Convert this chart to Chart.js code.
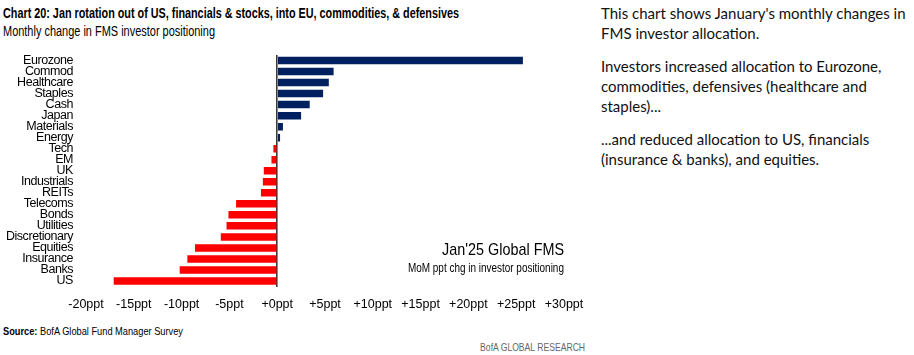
<!DOCTYPE html>
<html><head><meta charset="utf-8">
<script src="https://cdn.jsdelivr.net/npm/chart.js@4"></script>
<style>
html,body{margin:0;padding:0;background:#fff;width:914px;height:355px;overflow:hidden;position:relative;}
.t{position:absolute;white-space:nowrap;font-family:'Liberation Sans Narrow','Liberation Sans',sans-serif;color:#000;line-height:1;}
.fitL{transform-origin:0 0;}
.fitR{transform-origin:100% 0;}
#title{left:3px;top:5px;font-size:15px;font-weight:bold;}
#sub{left:3px;top:24px;font-size:14px;}
#ann1{right:350px;top:241px;font-size:17px;}
#ann2{right:350px;top:262px;font-size:12.5px;}
#src{left:3px;top:326px;font-size:11px;}
#brand{right:329px;top:342px;font-size:11px;color:#666;}
#wrap{position:absolute;left:0;top:0;width:590px;height:320px;}
#panel{position:absolute;left:601px;top:3px;width:310px;font-family:Lato,'Open Sans',sans-serif;font-size:15px;line-height:20px;color:#111;}
#panel p{margin:0 0 13px 0;white-space:nowrap;}
</style>
</head><body>
<div id="title" class="t fitL" data-w="456">Chart 20: Jan rotation out of US, financials &amp; stocks, into EU, commodities, &amp; defensives</div>
<div id="sub" class="t fitL" data-w="212">Monthly change in FMS investor positioning</div>
<div id="wrap"><canvas id="c"></canvas></div>
<div id="ann1" class="t fitR" data-w="122">Jan'25 Global FMS</div>
<div id="ann2" class="t fitR" data-w="156">MoM ppt chg in investor positioning</div>
<div id="src" class="t fitL" data-w="180"><b>Source:</b> BofA Global Fund Manager Survey</div>
<div id="brand" class="t fitR" data-w="105">BofA GLOBAL RESEARCH</div>
<div id="panel">
<p>This chart shows January's monthly changes in<br>FMS investor allocation.</p>
<p>Investors increased allocation to Eurozone,<br>commodities, defensives (healthcare and<br>staples)...</p>
<p>...and reduced allocation to US, financials<br>(insurance &amp; banks), and equities.</p>
</div>
<script>
const categories = ['Eurozone','Commod','Healthcare','Staples','Cash','Japan','Materials','Energy','Tech','EM','UK','Industrials','REITs','Telecoms','Bonds','Utilities','Discretionary','Equities','Insurance','Banks','US'];
const changes = [25.7, 5.9, 5.4, 4.8, 3.4, 2.5, 0.6, 0.3, -0.4, -0.6, -1.4, -1.5, -1.7, -4.3, -5.1, -5.3, -5.9, -8.6, -9.4, -10.2, -17.1];
const tickValues = [-20, -15, -10, -5, 0, 5, 10, 15, 20, 25, 30];

// fit text widths
document.querySelectorAll('[data-w]').forEach(el => {
  const w = el.getBoundingClientRect().width;
  const target = +el.dataset.w;
  if (w > 0) el.style.transform = 'scaleX(' + (target / w) + ')';
});

const NAVY = '#002060', RED = '#FF0000';
const LBL = "'Liberation Sans Narrow','Liberation Sans',sans-serif";

function condenseLabels(scale, spacing) {
  if (scale._condensed) return;
  scale._condensed = true;
  const orig = scale.drawLabels.bind(scale);
  scale.drawLabels = function (area) {
    const ctx = this.ctx;
    ctx.save();
    ctx.letterSpacing = spacing;
    orig(area);
    ctx.restore();
  };
}

new Chart(document.getElementById('c'), {
  type: 'bar',
  data: {
    labels: categories,
    datasets: [{
      data: changes,
      backgroundColor: changes.map(v => v >= 0 ? NAVY : RED),
      barPercentage: 0.68,
      categoryPercentage: 1.0
    }]
  },
  options: {
    indexAxis: 'y',
    responsive: true,
    maintainAspectRatio: false,
    animation: false,
    layout: { padding: { top: 55, right: 26, bottom: 8.5, left: 0 } },
    plugins: { legend: { display: false }, tooltip: { enabled: false } },
    scales: {
      x: {
        type: 'linear',
        min: tickValues[0],
        max: tickValues[tickValues.length - 1],
        afterBuildTicks: s => { s.ticks = tickValues.map(v => ({ value: v })); },
        afterFit: s => { s.height = 25; s.paddingLeft = 0; s.paddingRight = 0; },
        border: { display: false },
        grid: {
          drawTicks: false,
          color: ctx => (ctx.tick && ctx.tick.value === 0) ? '#3a3a3a' : 'rgba(0,0,0,0)',
          lineWidth: ctx => (ctx.tick && ctx.tick.value === 0) ? 1.6 : 0
        },
        ticks: {
          padding: 11,
          color: '#000',
          font: { family: LBL, size: 12.5 },
          maxRotation: 0,
          autoSkip: false,
          callback: v => (v >= 0 ? '+' : '') + v + 'ppt'
        }
      },
      y: {
        afterFit: s => { s.width = 86; condenseLabels(s, '-0.45px'); },
        border: { display: false },
        grid: { display: false, drawTicks: false },
        ticks: {
          padding: 13,
          color: '#000',
          autoSkip: false,
          font: { family: LBL, size: 12.5 }
        }
      }
    }
  }
});
</script>
</body></html>
